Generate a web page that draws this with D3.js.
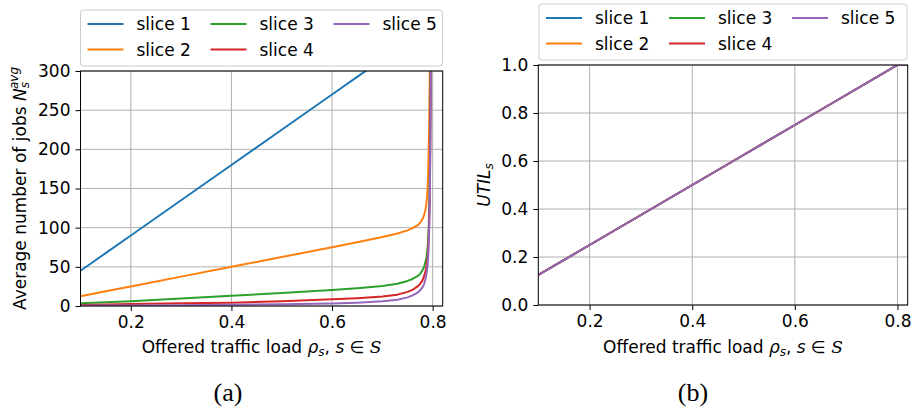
<!DOCTYPE html>
<html>
<head>
<meta charset="utf-8">
<script src="https://cdn.jsdelivr.net/npm/d3@7"></script>
<style>
  body { margin: 0; background: #fff; }
  svg { display: block; font-family: "DejaVu Sans", sans-serif; }
</style>
</head>
<body>
<div id="chart"></div>
<script>
// data

// offered load points for panel (a)
var loadJobs = [0.1, 0.15, 0.2, 0.3, 0.4, 0.5, 0.6, 0.65, 0.7, 0.73, 0.75, 0.76, 0.77, 0.775, 0.78,
    0.783, 0.786, 0.788, 0.79, 0.791, 0.792, 0.793, 0.794, 0.795, 0.796, 0.797];

// average number of jobs per slice
var jobsSlice1 = [45, 67.5, 90, 135, 180, 225, 270, 292.5, 315, 328.5, 337.5, 342, 346.5, 348.8, 351,
    352.4, 353.7, 354.6, 355.5, 356, 356.4, 356.9, 357.3, 357.8, 358.2, 358.7];
var jobsSlice2 = [12.5, 18.8, 25, 37.5, 50, 62.5, 75, 81.5, 88, 92.5, 96.5, 99.5, 103, 106, 111,
    116, 124, 133, 150, 168, 195, 230, 280, 340, 420, 520];
var jobsSlice3 = [3.4, 4.7, 6, 9.5, 13, 16.5, 20.4, 22.8, 25.5, 28.5, 32, 34.5, 38, 41, 46,
    50, 57, 63, 75, 84, 98, 118, 150, 200, 290, 420];
var jobsSlice4 = [1.3, 1.9, 2.6, 3.5, 4.3, 6, 8.5, 10, 12, 14.5, 18, 20.5, 25, 28, 33,
    38, 45, 52, 63, 72, 86, 105, 135, 185, 270, 400];
var jobsSlice5 = [0.3, 0.5, 0.7, 1.1, 1.5, 2.2, 3.2, 4.3, 6, 8, 11, 13.5, 17, 20, 24,
    28, 35, 42, 53, 62, 75, 95, 125, 175, 260, 390];

// offered load points for panel (b)
var loadUtil = [0.1, 0.2, 0.3, 0.4, 0.5, 0.6, 0.7, 0.8, 0.82];

// utilisation per slice (all five lie on top of each other)
var utilSlice1 = [0.125, 0.25, 0.375, 0.5, 0.625, 0.75, 0.875, 1.0, 1.0];
var utilSlice2 = [0.125, 0.25, 0.375, 0.5, 0.625, 0.75, 0.875, 1.0, 1.0];
var utilSlice3 = [0.125, 0.25, 0.375, 0.5, 0.625, 0.75, 0.875, 1.0, 1.0];
var utilSlice4 = [0.125, 0.25, 0.375, 0.5, 0.625, 0.75, 0.875, 1.0, 1.0];
var utilSlice5 = [0.125, 0.25, 0.375, 0.5, 0.625, 0.75, 0.875, 1.0, 1.0];

var sliceNames = ["slice 1", "slice 2", "slice 3", "slice 4", "slice 5"];
var sliceColors = ["#1f77b4", "#ff7f0e", "#2ca02c", "#d62728", "#9467bd"];

var xTicks = [0.2, 0.4, 0.6, 0.8];
var jobsTicks = [0, 50, 100, 150, 200, 250, 300];
var utilTicks = [0, 0.2, 0.4, 0.6, 0.8, 1.0];

const width = 913;
const height = 415;
const fs = 17;

var svg = d3.select("#chart")
    .append("svg")
    .attr("width", width)
    .attr("height", height);

// draws one panel
function drawPanel(p) {
    var x = d3.scaleLinear().domain([0.1, 0.82]).range([p.left, p.right]);
    var y = d3.scaleLinear().domain(p.yDomain).range([p.bottom, p.top]);

    var g = svg.append("g");

    g.append("clipPath")
        .attr("id", p.id + "-clip")
        .append("rect")
        .attr("x", p.left)
        .attr("y", p.top)
        .attr("width", p.right - p.left)
        .attr("height", p.bottom - p.top);

    // grid
    g.selectAll(".vgrid")
        .data(xTicks)
        .enter().append("line")
        .attr("x1", d => x(d)).attr("x2", d => x(d))
        .attr("y1", p.top).attr("y2", p.bottom)
        .attr("stroke", "#b0b0b0")
        .attr("stroke-width", 1);
    g.selectAll(".hgrid")
        .data(p.yTicks)
        .enter().append("line")
        .attr("x1", p.left).attr("x2", p.right)
        .attr("y1", d => y(d)).attr("y2", d => y(d))
        .attr("stroke", "#b0b0b0")
        .attr("stroke-width", 1);

    // lines
    var line = d3.line()
        .x((d, i) => x(p.xs[i]))
        .y(d => y(d));

    g.append("g")
        .attr("clip-path", "url(#" + p.id + "-clip)")
        .selectAll("path")
        .data(p.series)
        .enter().append("path")
        .attr("d", d => line(d))
        .attr("fill", "none")
        .attr("stroke", (d, i) => sliceColors[i])
        .attr("stroke-width", 2)
        .attr("stroke-linejoin", "round");

    // axes
    var xAxis = g.append("g")
        .attr("transform", "translate(0," + p.bottom + ")")
        .call(d3.axisBottom(x).tickValues(xTicks).tickFormat(d3.format(".1f")).tickSizeOuter(0).tickSize(5).tickPadding(5));
    var yAxis = g.append("g")
        .attr("transform", "translate(" + p.left + ",0)")
        .call(d3.axisLeft(y).tickValues(p.yTicks).tickFormat(p.yFormat).tickSizeOuter(0).tickSize(5).tickPadding(5));

    [xAxis, yAxis].forEach(function(a) {
        a.select(".domain").remove();
        a.selectAll("text")
            .attr("font-family", "DejaVu Sans")
            .attr("font-size", fs)
            .attr("fill", "#000");
        a.selectAll("line").attr("stroke", "#000").attr("stroke-width", 1);
    });

    // frame
    g.append("rect")
        .attr("x", p.left).attr("y", p.top)
        .attr("width", p.right - p.left)
        .attr("height", p.bottom - p.top)
        .attr("fill", "none")
        .attr("stroke", "#000")
        .attr("stroke-width", 1);

    // x label
    var xl = g.append("text")
        .attr("x", (p.left + p.right) / 2)
        .attr("y", 353)
        .attr("text-anchor", "middle")
        .attr("font-size", fs);
    xl.append("tspan").text("Offered traffic load ");
    xl.append("tspan").attr("font-style", "italic").text("ρ");
    xl.append("tspan").attr("font-style", "italic").attr("font-size", 12).attr("dy", 3).text("s");
    xl.append("tspan").attr("dy", -3).text(", ");
    xl.append("tspan").attr("font-style", "italic").text("s");
    xl.append("tspan").text(" ∈ ");
    xl.append("tspan").attr("font-family", "DejaVu Serif").attr("font-style", "italic").text("S");

    // y label
    var yl = g.append("text")
        .attr("transform", "translate(" + p.yLabelX + "," + ((p.top + p.bottom) / 2) + ") rotate(-90)")
        .attr("text-anchor", "middle")
        .attr("font-size", fs);
    p.yLabel(yl);

    // caption
    svg.append("text")
        .attr("x", p.captionX)
        .attr("y", 401)
        .attr("text-anchor", "middle")
        .attr("font-family", "Liberation Serif")
        .attr("font-size", 26)
        .text(p.caption);

    // legend
    var lg = svg.append("g").attr("transform", "translate(" + p.legend.x + "," + p.legend.y + ")");
    lg.append("rect")
        .attr("width", p.legend.w)
        .attr("height", 56)
        .attr("rx", 3)
        .attr("fill", "#fff")
        .attr("fill-opacity", 0.8)
        .attr("stroke", "#cccccc")
        .attr("stroke-width", 1);

    var items = lg.selectAll(".item")
        .data(sliceNames)
        .enter().append("g")
        .attr("transform", (d, i) => "translate(" + (7 + Math.floor(i / 2) * 123) + "," + (14 + (i % 2) * 25.5) + ")");
    items.append("line")
        .attr("x1", 0).attr("x2", 36)
        .attr("stroke", (d, i) => sliceColors[i])
        .attr("stroke-width", 2);
    items.append("text")
        .attr("x", 49)
        .attr("y", 6)
        .attr("font-size", fs)
        .text(d => d);
}

// panel (a): average number of jobs
drawPanel({
    id: "jobs",
    left: 80.5, right: 442.7, top: 71, bottom: 306,
    xs: loadJobs,
    series: [jobsSlice1, jobsSlice2, jobsSlice3, jobsSlice4, jobsSlice5],
    yDomain: [0, 300],
    yTicks: jobsTicks,
    yFormat: d3.format("d"),
    yLabelX: 26,
    yLabel: function(t) {
        t.append("tspan").text("Average number of jobs ");
        t.append("tspan").attr("font-style", "italic").text("N");
        t.append("tspan").attr("font-style", "italic").attr("font-size", 12).attr("dy", 3).text("s");
        t.append("tspan").attr("font-style", "italic").attr("font-size", 12).attr("dx", -7).attr("dy", -11).text("avg");
    },
    caption: "(a)",
    captionX: 228,
    legend: { x: 80.5, y: 10, w: 362 }
});

// panel (b): utilisation
drawPanel({
    id: "util",
    left: 538.3, right: 907.7, top: 65, bottom: 305,
    xs: loadUtil,
    series: [utilSlice1, utilSlice2, utilSlice3, utilSlice4, utilSlice5],
    yDomain: [0, 1],
    yTicks: utilTicks,
    yFormat: d3.format(".1f"),
    yLabelX: 490,
    yLabel: function(t) {
        t.append("tspan").attr("font-style", "italic").text("UTIL");
        t.append("tspan").attr("font-style", "italic").attr("font-size", 12).attr("dy", 3).text("s");
    },
    caption: "(b)",
    captionX: 693,
    legend: { x: 539, y: 4, w: 368 }
});
</script>
</body>
</html>
